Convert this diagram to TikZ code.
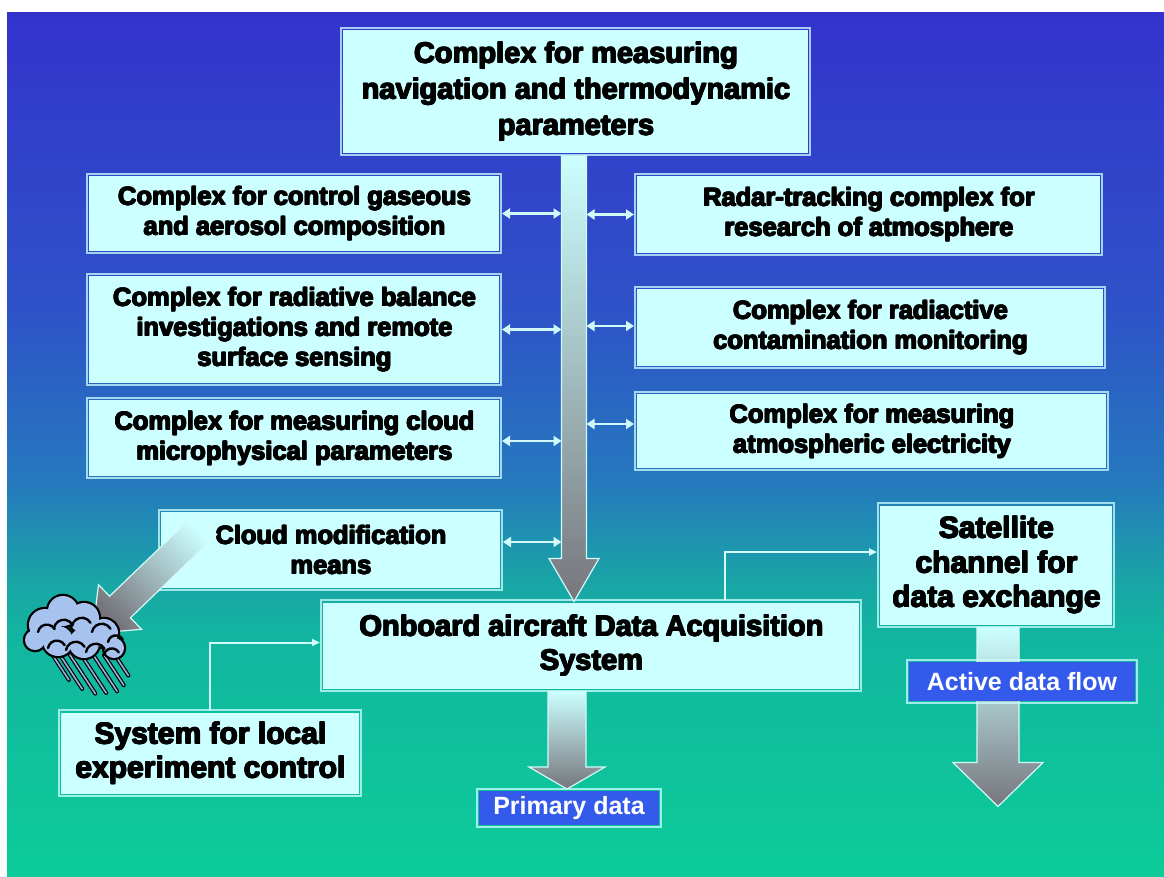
\documentclass[tikz,border=0pt]{standalone}
\usepackage{fontspec}
\setmainfont{Liberation Sans}
\usetikzlibrary{arrows.meta,calc}

% heavy lettering: the bold face overprinted with small offsets
\newcommand\hvy[1]{\leavevmode\rlap{\hspace{1.1pt}#1}\rlap{\raisebox{0.8pt}{#1}}%
  \rlap{\hspace{1.1pt}\raisebox{0.8pt}{#1}}\rlap{\hspace{0.55pt}\raisebox{0.4pt}{#1}}%
  \rlap{\hspace{0.55pt}#1}\rlap{\raisebox{0.4pt}{#1}}#1}

\definecolor{boxfill}{RGB}{204,255,255}
\definecolor{labelblue}{RGB}{51,90,235}
\definecolor{shaftgray}{RGB}{118,118,124}
\definecolor{linkc}{RGB}{210,250,250}
\definecolor{cloudblue}{RGB}{168,194,240}
\definecolor{rainblue}{RGB}{150,176,226}
\definecolor{bgA}{RGB}{12,204,153}
\definecolor{bgB}{RGB}{18,182,160}
\definecolor{bgC}{RGB}{25,165,166}
\definecolor{bgD}{RGB}{38,120,190}
\definecolor{bgE}{RGB}{46,82,200}
\definecolor{bgF}{RGB}{51,51,204}

\pgfdeclareverticalshading{skyfade}{100bp}{color(0bp)=(bgA); color(25bp)=(bgA);
  color(38.7bp)=(bgB); color(42bp)=(bgC); color(48bp)=(bgD); color(58bp)=(bgE);
  color(75bp)=(bgF); color(100bp)=(bgF)}

\begin{document}
\begin{tikzpicture}[x=1pt,y=-1pt,
  panel/.style={fill=boxfill, inner sep=0pt, outer sep=0pt, align=center,
    font=\bfseries\fontsize{25.5}{30}\selectfont},
  tag/.style={fill=labelblue, text=white, inner sep=0pt, outer sep=0pt,
    font=\bfseries\fontsize{25}{30}\selectfont},
  frame/.style={draw=boxfill, draw opacity=0.75, line width=1.8pt},
  biarrow/.style={draw=linkc, line width=2.5pt,
    {Triangle[length=8pt,width=10pt]}-{Triangle[length=8pt,width=10pt]}},
  link/.style={draw=linkc, line width=2pt, -{Triangle[length=8pt,width=7pt]}},
  bigarrow/.style={draw=linkc, line width=1.2pt, top color=boxfill, bottom color=shaftgray},
  puff/.style={line width=2.4pt, line cap=round}
]
\useasboundingbox (0,0) rectangle (1164,876);
\fill[white] (0,0) rectangle (1164,876);
\shade[shading=skyfade] (7,12) rectangle (1164,876);

% ---- blocks ----
\node[panel, minimum width=465, minimum height=123,
  font=\bfseries\fontsize{29}{36}\selectfont] (top) at (575.5,91.5)
  {\hvy{Complex for measuring}\\\hvy{navigation and thermodynamic}\\\hvy{parameters}};

\node[panel, minimum width=410, minimum height=75] (g1) at (294,213.5)
  {\hvy{Complex for control gaseous}\\\hvy{and aerosol composition}};
\node[panel, minimum width=410, minimum height=107] (g2) at (294,329.5)
  {\hvy{Complex for radiative balance}\\\hvy{investigations and remote}\\\hvy{surface sensing}};
\node[panel, minimum width=410, minimum height=76] (g3) at (294,438)
  {\hvy{Complex for measuring cloud}\\\hvy{microphysical parameters}};
\node[panel, minimum width=339, minimum height=76] (g4) at (330.5,550)
  {\hvy{Cloud modification}\\\hvy{means}};

\node[panel, minimum width=463, minimum height=77] (r1) at (868.5,214.5)
  {\hvy{Radar-tracking complex for}\\\hvy{research of atmosphere}};
\node[panel, minimum width=466, minimum height=77] (r2) at (870,327.5)
  {\hvy{Complex for radiactive}\\\hvy{contamination monitoring}};
\node[panel, minimum width=469, minimum height=74] (r3) at (871.5,431)
  {\hvy{Complex for measuring}\\\hvy{atmospheric electricity}};

\node[panel, minimum width=536, minimum height=86,
  font=\bfseries\fontsize{29}{34}\selectfont] (onboard) at (591,645.5)
  {\hvy{Onboard aircraft Data Acquisition}\\\hvy{System}};
\node[panel, minimum width=232, minimum height=119,
  font=\bfseries\fontsize{30}{34.5}\selectfont] (sat) at (996,565)
  {\hvy{Satellite}\\\hvy{channel for}\\\hvy{data exchange}};
\node[panel, minimum width=298, minimum height=81,
  font=\bfseries\fontsize{30}{34}\selectfont] (local) at (210,753)
  {\hvy{System for local}\\\hvy{experiment control}};

\foreach \n in {top,g1,g2,g3,g4,r1,r2,r3,onboard,sat,local}
  \draw[frame] ([xshift=-2.2pt,yshift=-2.2pt]\n.south west)
    rectangle ([xshift=2.2pt,yshift=2.2pt]\n.north east);

% ---- central data trunk ----
\path ([xshift=-1.5pt]top.south) coordinate (sT) (sT |- onboard.north) coordinate (sB);
\coordinate (shL) at ($(sT)+(-12.5,0)$);
\coordinate (shR) at ($(sT)+(12.5,0)$);
\path[bigarrow] ($(sT)+(-12.5,3)$) -- ($(sB)+(-12.5,-44)$) -- ($(sB)+(-25,-44)$)
  -- ($(sB)+(0,-1)$) -- ($(sB)+(25,-44)$) -- ($(sB)+(12.5,-44)$)
  -- ($(sT)+(12.5,3)$) -- cycle;

% ---- exchange with the trunk ----
\draw[biarrow] ([xshift=3pt]g1.east) -- (g1.east -| shL);
\draw[biarrow] ([xshift=3pt]g2.east) -- (g2.east -| shL);
\draw[biarrow] ([xshift=3pt,yshift=-3pt]g3.east) -- ([yshift=-3pt]g3.east -| shL);
\draw[biarrow] ([xshift=3pt,yshift=8pt]g4.east) -- ([yshift=8pt]g4.east -| shL);
\draw[biarrow] (shR |- r1.west) -- ([xshift=-3pt]r1.west);
\draw[biarrow] ([yshift=1.5pt]shR |- r2.west) -- ([xshift=-3pt,yshift=1.5pt]r2.west);
\draw[biarrow] ([yshift=7pt]shR |- r3.west) -- ([xshift=-3pt,yshift=7pt]r3.west);

% ---- control and satellite links ----
\draw[link] ([yshift=2.2pt]local.north) |- ([xshift=-3pt,yshift=3pt]onboard.west);
\draw[link] ([xshift=134pt,yshift=3pt]onboard.north) |- ([xshift=-3pt,yshift=13pt]sat.west);

% ---- primary data output ----
\node[tag, minimum width=180, minimum height=34] (primary) at (569,808) {Primary data};
\draw[frame] ([xshift=-2.2pt,yshift=-2.2pt]primary.south west)
  rectangle ([xshift=2.2pt,yshift=2.2pt]primary.north east);
\path ([xshift=-2pt]primary.north) coordinate (pB) (onboard.south -| pB) coordinate (pT);
\path[bigarrow] ($(pT)+(-19,3)$) -- ($(pB)+(-19,-24)$) -- ($(pB)+(-38,-24)$)
  -- ($(pB)+(0,-2)$) -- ($(pB)+(38,-24)$) -- ($(pB)+(19,-24)$)
  -- ($(pT)+(19,3)$) -- cycle;

% ---- satellite data flow ----
\path ([xshift=2pt]sat.south) coordinate (fT);
\coordinate (fB) at ($(fT)+(0,182)$);
\path[bigarrow] ($(fT)+(-21,3)$) -- ($(fB)+(-21,-44)$) -- ($(fB)+(-45,-44)$)
  -- (fB) -- ($(fB)+(45,-44)$) -- ($(fB)+(21,-44)$)
  -- ($(fT)+(21,3)$) -- cycle;
\node[tag, minimum width=226, minimum height=39] (active) at (1022,681.5) {Active data flow};
\draw[frame] ([xshift=-2.2pt,yshift=-2.2pt]active.south west)
  rectangle ([xshift=2.2pt,yshift=2.2pt]active.north east);

% ---- cloud modification arrow ----
\shade[draw=linkc, line width=1.2pt, top color=boxfill, bottom color=shaftgray, shading angle=-46]
  (216.8,534.5) -- (130.4,617.8) -- (141.5,629.3) -- (92.6,633.4)
  -- (98.5,584.7) -- (109.6,596.2) -- (196,513) -- cycle;

% ---- rain cloud ----
\foreach \sx/\sy/\l in {48/648/38, 58/652/44, 70/655/46, 82/656/44, 94/656/42, 104/655/36, 113/652/28} {
  \draw[black, line width=4pt, line cap=round] (\sx,\sy) -- ++(0.55*\l,0.84*\l);
  \draw[rainblue, line width=1.6pt, line cap=round] (\sx,\sy) -- ++(0.55*\l,0.84*\l);
}
\foreach \cx/\cy/\r in {45/625/16, 63/611/15, 84/618/15, 104/633/14, 114/648/10,
                       58/641/15, 84/643/15, 35/640/10}
  \draw[black, line width=4.5pt] (\cx,\cy) circle[radius=\r];
\foreach \cx/\cy/\r in {45/625/16, 63/611/15, 84/618/15, 104/633/14, 114/648/10,
                       58/641/15, 84/643/15, 35/640/10}
  \fill[cloudblue] (\cx,\cy) circle[radius=\r];
\foreach \ax/\ay/\r in {38/632/9, 54/628/10, 72/626/10, 92/632/10, 108/642/8,
                       48/648/9, 66/650/10, 86/652/10, 104/655/8}
  \draw[puff] (\ax,\ay) arc[start angle=190, end angle=330, radius=\r];
\end{tikzpicture}
\end{document}
